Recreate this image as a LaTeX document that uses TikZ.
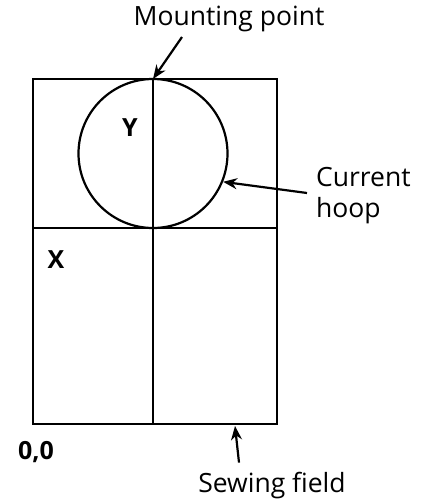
\documentclass[tikz,border=0pt]{standalone}
\usepackage{fontspec}
\setmainfont{Open Sans}
\usetikzlibrary{arrows.meta,positioning}

\begin{document}
\begin{tikzpicture}[x=1pt, y=-1pt, line width=2.2pt,
  lbl/.style={font=\fontsize{26.5}{31}\selectfont,align=left,inner sep=0pt},
  tag/.style={font=\bfseries\fontsize{25}{30}\selectfont,inner sep=0pt},
  ptr/.style={-{Stealth[length=14pt,width=11pt]},line width=2.2pt}]
\useasboundingbox (0,0) rectangle (421,503);
% sewing field and its quarters
\coordinate (sw) at (33,424); \coordinate (ne) at (277,79);
\coordinate (top) at (153,79); \coordinate (bot) at (153,424);
\coordinate (midl) at (33,228); \coordinate (midr) at (277,228);
\coordinate (edge) at (235,426);
\draw (sw) rectangle (ne);
\draw (top) -- (bot);
\draw (midl) -- (midr);
\node[circle,draw,minimum size=149pt,inner sep=0pt] (hoop) at (153,153.5) {};
% labels
\node[tag] (y) at (130,128) {Y};
\node[tag] (x) at (56,260) {X};
\node[tag] (origin) at (36,452) {0,0};
\node[lbl] (mount) at (229,19) {Mounting point};
\node[lbl,anchor=west] (cur) at (315,196) {Current\\hoop};
\node[lbl] (sew) at (272,486) {Sewing field};
% pointers
\draw[ptr] ([xshift=-47pt,yshift=-4pt]mount.south) -- (top);
\draw[ptr] ([xshift=-8pt,yshift=3pt]cur.west) -- (hoop.-22);
\draw[ptr] ([xshift=-33pt,yshift=9pt]sew.north) -- (edge);
\end{tikzpicture}
\end{document}
